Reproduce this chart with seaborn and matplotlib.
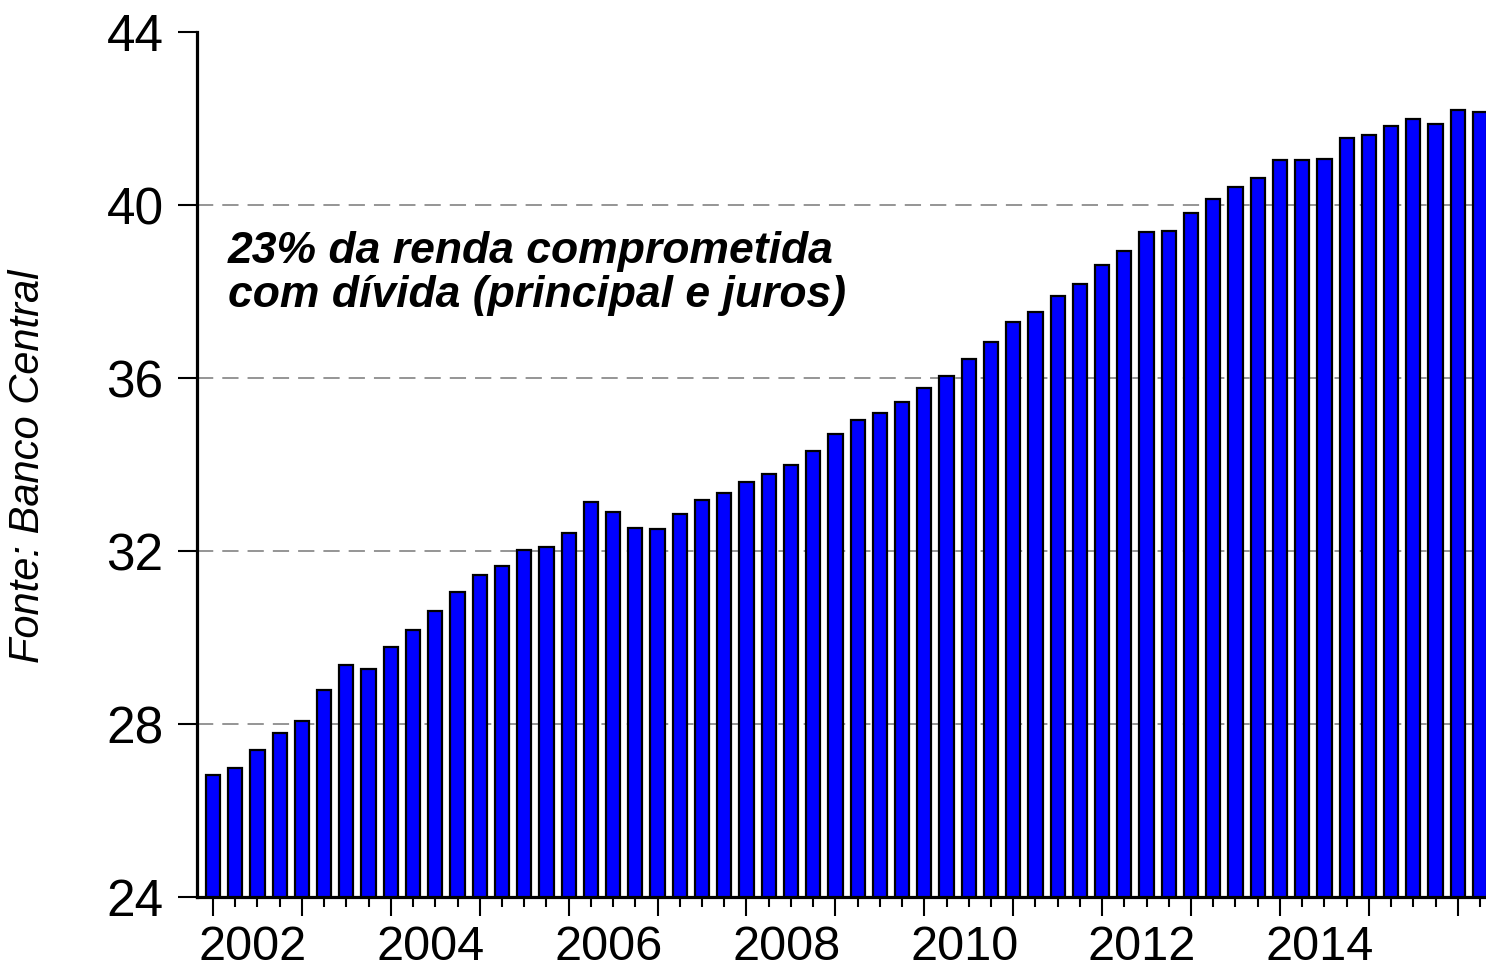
import matplotlib
matplotlib.use("Agg")
import matplotlib.pyplot as plt
import seaborn as sns
import pandas as pd

# Data: comprometimento de renda (trimestral, 2002T1 - 2016T2)
years = list(range(2002, 2017))
quarters = [f"{y}T{q}" for y in years for q in range(1, 5)][:58]
values = [
    26.82, 26.99, 27.39, 27.79,
    28.08, 28.79, 29.36, 29.28,
    29.77, 30.17, 30.61, 31.05,
    31.45, 31.65, 32.02, 32.09,
    32.42, 33.14, 32.90, 32.54,
    32.50, 32.86, 33.18, 33.35,
    33.59, 33.79, 33.99, 34.31,
    34.71, 35.04, 35.20, 35.44,
    35.76, 36.04, 36.44, 36.84,
    37.29, 37.53, 37.89, 38.17,
    38.61, 38.94, 39.38, 39.41,
    39.81, 40.14, 40.42, 40.62,
    41.03, 41.03, 41.07, 41.56,
    41.63, 41.83, 42.00, 41.88,
    42.20, 42.16,
]
year_labels = [str(y) for y in range(2002, 2016, 2)]
y_ticks = [24, 28, 32, 36, 40, 44]
grid_levels = [28, 32, 36, 40]
note = "23% da renda comprometida\ncom dívida (principal e juros)"
source = "Fonte: Banco Central"

df = pd.DataFrame({"trimestre": quarters, "valor": values})

sns.set_style("white")
plt.rcParams["font.family"] = ["Liberation Sans", "DejaVu Sans"]
plt.rcParams.update({"text.color": "black", "xtick.color": "black",
                     "ytick.color": "black", "axes.labelcolor": "black"})

fig = plt.figure(figsize=(14.86, 9.71), dpi=100)
ax = fig.add_axes([197 / 1486, 74 / 971, 1289 / 1486, 865 / 971])

for lvl in grid_levels:
    ax.axhline(lvl, color="#8c8c8c", linewidth=1.3, linestyle=(0, (9, 5)), zorder=0)

sns.barplot(data=df, x="trimestre", y="valor", order=quarters, color="#0000ff",
            saturation=1, width=0.64, edgecolor="black", linewidth=1.6, ax=ax, zorder=2)

ax.set_ylim(24, 44)
ax.set_xlim(-0.72, len(quarters) - 0.73)
ax.set_yticks(y_ticks)
ax.set_yticklabels([str(t) for t in y_ticks])
ax.set_xlabel("")
ax.set_ylabel("")

# quarterly ticks: long at Q1, short otherwise
major_pos = [i for i in range(len(quarters)) if i % 4 == 0]
minor_pos = [i for i in range(len(quarters)) if i % 4 != 0]
ax.set_xticks(major_pos)
ax.set_xticklabels([""] * len(major_pos))
ax.set_xticks(minor_pos, minor=True)
ax.tick_params(axis="x", which="major", length=14, width=1.5, direction="out", bottom=True)
ax.tick_params(axis="x", which="minor", length=7.5, width=1.5, direction="out", bottom=True)
ax.tick_params(axis="y", length=14, width=1.5, direction="out", left=True, pad=10,
               labelsize=37)

for lab in year_labels:
    pos = quarters.index(lab + "T1") + 1.8
    ax.annotate(lab, xy=(pos, 0), xycoords=("data", "axes fraction"),
                xytext=(0, -45), textcoords="offset points",
                ha="center", va="baseline", fontsize=35)

for side in ["top", "right"]:
    ax.spines[side].set_visible(False)
for side in ["left", "bottom"]:
    ax.spines[side].set_linewidth(2.3)
    ax.spines[side].set_color("black")

ax.text(0.67, 39.4, note, fontsize=32, fontweight="bold", style="italic",
        ha="left", va="top", linespacing=1.1, zorder=3)

fig.text(0.019, 0.52, source, rotation=90, fontsize=30, style="italic",
         ha="center", va="center")

fig.savefig("out.png", dpi=100)
